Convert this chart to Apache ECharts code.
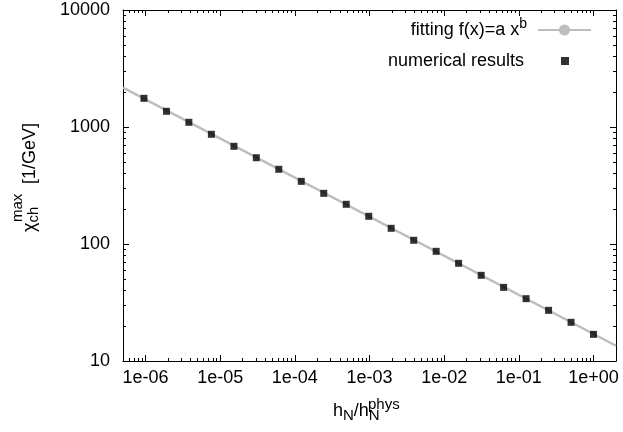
<!DOCTYPE html>
<html>
<head>
<meta charset="utf-8">
<script src="https://cdn.jsdelivr.net/npm/echarts@6/dist/echarts.min.js"></script>
<style>
html,body{margin:0;padding:0;background:#fff;}
#chart{width:623px;height:432px;}
</style>
</head>
<body>
<div id="chart"></div>
<script>
// h_N / h_N^phys values of the numerical points
const hRatio = [9.54e-7, 1.91e-6, 3.81e-6, 7.63e-6, 1.53e-5, 3.05e-5, 6.10e-5, 1.22e-4, 2.44e-4, 4.88e-4,
                9.77e-4, 1.95e-3, 3.91e-3, 7.81e-3, 1.56e-2, 3.13e-2, 6.25e-2, 0.125, 0.25, 0.5, 1];
// chi_ch^max [1/GeV] numerical results
const chiMax = [1759, 1362, 1097, 866, 684, 546, 435, 343, 271, 218.5,
                172.5, 136.2, 107.6, 86.6, 68.4, 54.0, 42.6, 34.1, 27.1, 21.4, 16.9];
// fitted line end points (read at plot edges)
const fitX = [5e-7, 2];
const fitY = [2170, 13.5];
// axis ranges and tick labels
const xRange = [5e-7, 2];
const yRange = [10, 10000];
const fitName = 'fitting f(x)=a x^b';
const numName = 'numerical results';

const FONT = 'Liberation Sans, Arial, Helvetica, sans-serif';

function expLabel(v) {
  const e = Math.round(Math.log10(v));
  return '1e' + (e < 0 ? '-' : '+') + String(Math.abs(e)).padStart(2, '0');
}

const tickCommon = {
  axisLine: {show: true, onZero: false, lineStyle: {color: '#000', width: 1}},
  axisTick: {show: true, inside: true, length: 6, lineStyle: {color: '#000', width: 1}},
  minorTick: {show: true, splitNumber: 9, length: 3, lineStyle: {color: '#000', width: 1}},
  splitLine: {show: false},
  minorSplitLine: {show: false}
};

const chart = echarts.init(document.getElementById('chart'), null, {renderer: 'canvas'});

const option = {
  animation: false,
  backgroundColor: '#fff',
  grid: {left: 123, right: 7, top: 10, bottom: 71, containLabel: false},
  xAxis: [
    Object.assign({
      type: 'log', logBase: 10, min: xRange[0], max: xRange[1], position: 'bottom',
      axisLabel: {
        margin: 8, fontSize: 18, color: '#000', fontFamily: FONT,
        showMinLabel: false, showMaxLabel: false,
        formatter: expLabel
      }
    }, tickCommon),
    Object.assign({
      type: 'log', logBase: 10, min: xRange[0], max: xRange[1], position: 'top',
      axisLabel: {show: false}
    }, tickCommon)
  ],
  yAxis: [
    Object.assign({
      type: 'log', logBase: 10, min: yRange[0], max: yRange[1], position: 'left',
      axisLabel: {
        margin: 13, fontSize: 18, color: '#000', fontFamily: FONT,
        formatter: v => String(Math.round(v))
      }
    }, tickCommon),
    Object.assign({
      type: 'log', logBase: 10, min: yRange[0], max: yRange[1], position: 'right',
      axisLabel: {show: false}
    }, tickCommon)
  ],
  legend: [
    {
      data: [fitName],
      right: 31, top: 17, padding: 0,
      align: 'right', orient: 'vertical',
      itemWidth: 53, itemHeight: 14,
      selectedMode: false,
      formatter: () => '{a|fitting f(x)=a x}{s|b}',
      textStyle: {
        fontFamily: FONT, fontSize: 18, color: '#000',
        rich: {
          a: {fontFamily: FONT, fontSize: 18, color: '#000'},
          s: {fontFamily: FONT, fontSize: 14, color: '#000', padding: [0, 6, 12, 0]}
        }
      }
    },
    {
      data: [{name: numName, icon: 'rect'}],
      right: 54, top: 52, padding: 0,
      align: 'right', orient: 'vertical',
      itemWidth: 8, itemHeight: 8,
      selectedMode: false,
      formatter: () => '{a|numerical results}',
      textStyle: {
        fontFamily: FONT, fontSize: 18, color: '#000',
        rich: {
          a: {fontFamily: FONT, fontSize: 18, color: '#000', padding: [0, 32, 0, 0]}
        }
      }
    }
  ],
  series: [
    {
      name: fitName,
      type: 'line',
      xAxisIndex: 0, yAxisIndex: 0,
      data: fitX.map((x, i) => [x, fitY[i]]),
      symbol: 'none',
      lineStyle: {color: '#bdbdbd', width: 2.5},
      itemStyle: {color: '#bdbdbd'},
      z: 2
    },
    {
      name: numName,
      type: 'scatter',
      xAxisIndex: 0, yAxisIndex: 0,
      data: hRatio.map((x, i) => [x, chiMax[i]]),
      symbol: 'rect',
      symbolSize: 7,
      itemStyle: {color: '#000'},
      z: 3
    }
  ],
  graphic: [
    {
      type: 'text', x: 333, y: 411, silent: true,
      style: {
        text: '{m|h}{s|N}{m|/h}{s|N}',
        verticalAlign: 'middle', align: 'left',
        rich: {
          m: {fontFamily: FONT, fontSize: 18, fill: '#000'},
          s: {fontFamily: FONT, fontSize: 15, fill: '#000', padding: [10, 0, 0, 0]}
        }
      }
    },
    {
      type: 'text', x: 368, y: 405, silent: true,
      style: {text: 'phys', fontFamily: FONT, fontSize: 15, fill: '#000', verticalAlign: 'middle', align: 'left'}
    },
    {
      type: 'group', x: 30, y: 232, rotation: Math.PI / 2, silent: true,
      children: [
        {
          type: 'text', x: 0, y: 0,
          style: {
            text: '{m|χ}{s|ch}',
            verticalAlign: 'middle', align: 'left',
            rich: {
              m: {fontFamily: FONT, fontSize: 18, fill: '#000'},
              s: {fontFamily: FONT, fontSize: 15, fill: '#000', padding: [7, 0, 0, 0]}
            }
          }
        },
        {
          type: 'text', x: 10, y: -12,
          style: {text: 'max', fontFamily: FONT, fontSize: 15, fill: '#000', verticalAlign: 'middle', align: 'left'}
        },
        {
          type: 'text', x: 48, y: 0,
          style: {text: '[1/GeV]', fontFamily: FONT, fontSize: 18, fill: '#000', verticalAlign: 'middle', align: 'left'}
        }
      ]
    }
  ]
};

chart.setOption(option);
</script>
</body>
</html>
